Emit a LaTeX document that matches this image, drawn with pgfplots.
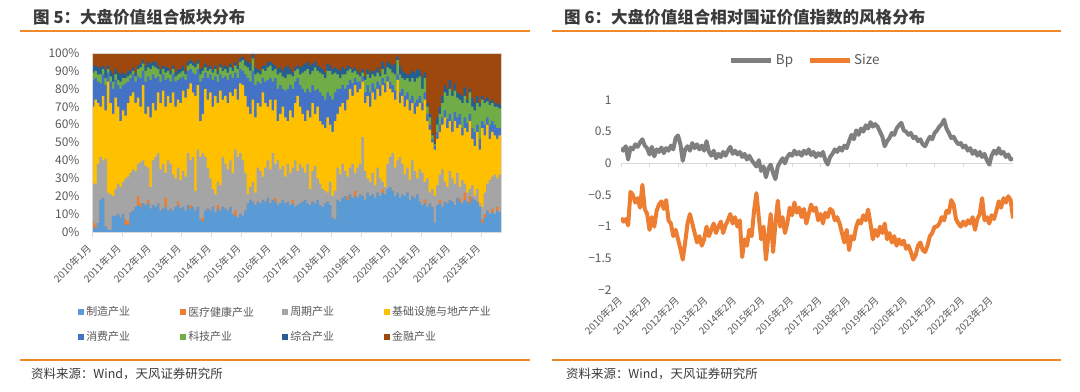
\documentclass[border=0pt]{standalone}
\usepackage{fontspec}
\setmainfont{Noto Sans CJK SC}
\usepackage{pgfplots}
\pgfplotsset{compat=1.18}
\usepackage{pgfplotstable}

\definecolor{cMfg}{HTML}{5B9BD5}
\definecolor{cMed}{HTML}{ED7D31}
\definecolor{cCyc}{HTML}{A5A5A5}
\definecolor{cInf}{HTML}{FFC000}
\definecolor{cCon}{HTML}{4472C4}
\definecolor{cTec}{HTML}{70AD47}
\definecolor{cMis}{HTML}{255E91}
\definecolor{cFin}{HTML}{9E480E}
\definecolor{cBp}{HTML}{7F7F7F}
\definecolor{cSize}{HTML}{ED7D31}
\definecolor{hdr}{HTML}{F0892A}
\definecolor{ttl}{HTML}{3A3A3A}
\definecolor{tickc}{HTML}{595959}
\definecolor{axc}{HTML}{D9D9D9}

% cumulative boundaries (%) of the stacked sectors, monthly from 2010-01
\pgfplotstableread{
i b1 b2 b3 b4 b5 b6 b7
0 3 6 27 70 85 89 93
1 2 4 27 74 86 90 93
2 5 5 38 72 84 88 92
3 18 18 42 70 83 88 92
4 19 19 40 76 88 91 93
5 3 3 41 68 82 86 91
6 1 1 22 84 89 91 93
7 1 1 21 72 84 87 90
8 9 9 20 66 80 84 88
9 9 9 24 75 85 88 91
10 10 10 27 70 82 85 89
11 8 8 25 62 80 84 88
12 10 10 28 68 82 86 89
13 4 7 30 65 83 86 88
14 4 6 31 72 84 87 90
15 11 11 33 76 86 88 90
16 12 12 35 78 88 90 92
17 14 14 34 72 84 87 89
18 15 20 38 75 87 91 93
19 14 16 39 70 86 92 94
20 16 16 40 82 90 94 96
21 15 15 37 66 84 90 93
22 16 18 36 70 87 92 95
23 13 13 25 64 85 91 94
24 15 15 40 72 88 93 95
25 14 14 42 68 86 92 95
26 16 16 44 78 87 91 93
27 12 12 35 72 84 88 91
28 13 13 38 79 88 91 93
29 14 19 33 70 85 89 92
30 12 12 40 76 86 90 92
31 13 13 38 72 84 88 90
32 12 12 32 78 88 91 93
33 14 14 30 70 84 87 89
34 15 17 36 74 85 88 91
35 13 13 29 72 86 89 91
36 14 14 34 79 87 90 93
37 12 12 31 75 85 88 90
38 15 15 44 80 90 93 95
39 13 15 40 83 91 94 96
40 14 14 42 78 89 93 95
41 12 12 23 76 88 92 94
42 14 14 46 82 91 94 96
43 7 7 42 62 84 88 91
44 6 8 44 66 86 90 92
45 12 12 42 80 89 92 94
46 13 13 36 74 86 90 92
47 12 12 30 78 88 91 93
48 14 14 24 70 85 89 91
49 11 11 21 76 87 91 93
50 13 15 28 72 84 88 90
51 12 12 26 79 88 92 94
52 14 14 42 74 86 90 92
53 13 13 38 76 87 91 93
54 12 12 35 72 85 89 92
55 14 14 40 78 88 92 94
56 10 10 33 76 86 90 92
57 9 12 46 80 89 93 95
58 8 8 42 74 86 91 93
59 10 10 44 83 91 95 97
60 9 9 40 82 90 96 98
61 12 12 33 76 88 93 96
62 16 16 21 70 86 92 95
63 18 18 25 66 84 90 94
64 17 17 28 74 90 97 100
65 15 15 22 64 82 88 92
66 17 17 36 72 84 89 91
67 16 16 34 70 83 88 90
68 18 18 31 78 86 91 93
69 17 17 36 72 84 90 93
70 19 19 40 70 85 92 95
71 16 16 35 74 86 93 95
72 18 18 44 68 84 90 94
73 17 19 38 74 86 91 93
74 15 15 40 62 80 88 91
75 16 16 35 66 82 89 92
76 18 18 37 70 80 87 90
77 16 16 31 64 79 86 92
78 17 17 38 62 80 88 93
79 15 15 33 68 82 88 91
80 16 18 36 64 80 87 89
81 14 14 40 72 84 90 92
82 15 15 34 76 86 91 93
83 16 16 38 70 82 88 92
84 17 17 36 66 80 89 93
85 18 18 33 62 78 90 94
86 16 16 38 68 80 91 95
87 15 15 24 64 78 88 93
88 17 17 34 72 82 90 94
89 16 16 37 66 79 92 95
90 18 18 30 70 80 90 93
91 15 15 27 62 78 89 92
92 14 14 24 60 76 88 91
93 16 16 23 58 74 86 89
94 17 17 22 64 78 90 94
95 15 15 28 60 76 90 93
96 8 8 20 56 74 88 91
97 7 7 23 62 78 89 92
98 18 18 36 66 80 88 91
99 17 17 32 70 80 86 90
100 19 19 38 72 82 88 92
101 20 20 34 68 80 88 91
102 18 20 31 74 82 90 93
103 21 21 36 80 85 91 92
104 19 19 38 76 83 89 91
105 20 23 33 82 86 90 92
106 19 19 36 78 84 88 90
107 21 21 38 80 84 87 89
108 20 20 53 84 87 89 91
109 18 18 34 72 78 85 87
110 22 22 30 76 82 88 91
111 20 20 28 70 78 86 89
112 21 21 33 78 83 88 90
113 19 19 26 74 80 87 90
114 22 22 36 80 84 89 92
115 20 20 30 76 82 87 89
116 22 24 28 82 86 91 95
117 21 21 25 78 83 88 92
118 24 24 38 84 87 92 95
119 25 25 42 80 84 91 94
120 23 23 44 78 82 89 93
121 20 20 36 74 79 88 94
122 22 22 40 85 88 96 98
123 19 19 42 72 78 88 93
124 21 21 38 76 80 86 90
125 20 20 32 70 76 85 89
126 22 22 36 74 78 86 88
127 18 18 29 68 74 84 88
128 20 20 40 72 76 86 90
129 19 19 34 66 72 84 89
130 21 21 30 70 74 86 91
131 17 17 35 72 76 87 90
132 15 15 33 68 72 80 87
133 16 18 28 74 78 86 89
134 14 14 30 62 66 70 72
135 16 16 22 57 60 64 66
136 14 14 24 50 52 54 55
137 5 5 20 46 48 49 50
138 15 15 26 52 56 60 64
139 16 18 32 56 60 66 70
140 14 14 35 60 64 72 76
141 17 17 28 64 68 78 82
142 16 16 25 58 63 76 80
143 18 18 34 62 66 80 85
144 17 17 30 56 62 76 79
145 15 15 27 62 67 79 83
146 19 19 33 58 64 75 78
147 17 19 25 60 66 74 77
148 16 16 29 54 58 72 76
149 18 22 27 58 64 76 81
150 17 17 22 56 61 72 74
151 16 20 24 62 66 78 80
152 19 19 26 52 58 70 75
153 18 18 20 48 56 68 72
154 17 17 24 56 60 72 76
155 14 14 16 46 52 70 72
156 5 7 14 58 62 74 76
157 8 10 22 54 60 72 74
158 12 12 27 60 64 73 75
159 10 10 29 52 60 71 73
160 11 13 31 56 62 72 74
161 10 10 32 54 60 70 72
162 12 14 30 52 58 70 72
163 11 11 32 54 58 69 71
164 13 13 31 55 59 68 70
}\leftdata

% monthly style exposures from 2010-02
\pgfplotstableread{
i bp size
0 0.24 -0.86
1 0.20 -0.92
2 0.27 -0.88
3 0.06 -0.98
4 0.25 -0.45
5 0.22 -0.50
6 0.30 -0.62
7 0.26 -0.55
8 0.33 -0.70
9 0.38 -0.34
10 0.28 -0.72
11 0.24 -0.80
12 0.14 -1.05
13 0.26 -0.85
14 0.11 -1.00
15 0.22 -0.75
16 0.18 -0.65
17 0.25 -0.60
18 0.16 -0.72
19 0.24 -0.58
20 0.20 -0.90
21 0.28 -0.95
22 0.22 -1.15
23 0.40 -1.05
24 0.44 -1.20
25 0.30 -1.35
26 0.04 -1.52
27 0.22 -1.25
28 0.27 -0.95
29 0.20 -0.80
30 0.32 -0.95
31 0.24 -1.10
32 0.30 -1.25
33 0.22 -1.15
34 0.28 -1.30
35 0.20 -1.20
36 0.35 -1.00
37 0.18 -1.15
38 0.12 -1.05
39 0.20 -0.95
40 0.08 -1.10
41 0.15 -1.00
42 0.10 -0.92
43 0.18 -1.10
44 0.12 -0.98
45 0.20 -0.90
46 0.26 -0.80
47 0.15 -0.95
48 0.20 -0.85
49 0.14 -1.00
50 0.18 -0.90
51 0.10 -1.48
52 0.15 -1.20
53 0.06 -1.30
54 0.12 -1.05
55 0.05 -1.15
56 0.00 -0.75
57 -0.05 -0.47
58 0.05 -0.85
59 -0.12 -1.20
60 -0.05 -1.00
61 -0.22 -1.52
62 -0.08 -1.15
63 -0.02 -0.80
64 -0.15 -1.40
65 -0.25 -0.95
66 -0.05 -0.59
67 0.02 -1.00
68 0.08 -0.85
69 0.00 -1.10
70 0.10 -0.95
71 0.15 -0.70
72 0.12 -0.82
73 0.20 -0.62
74 0.14 -0.78
75 0.18 -0.70
76 0.12 -0.85
77 0.20 -0.72
78 0.15 -0.95
79 0.22 -0.80
80 0.13 -0.65
81 0.18 -0.75
82 0.10 -0.70
83 0.16 -0.90
84 0.12 -0.80
85 0.18 -0.95
86 0.05 -0.78
87 -0.02 -0.85
88 0.10 -0.72
89 0.15 -0.75
90 0.22 -0.90
91 0.18 -0.85
92 0.25 -0.95
93 0.20 -1.10
94 0.28 -1.25
95 0.24 -1.05
96 0.35 -1.37
97 0.45 -1.15
98 0.38 -1.20
99 0.52 -1.00
100 0.45 -0.90
101 0.55 -0.95
102 0.50 -0.82
103 0.60 -0.90
104 0.55 -0.73
105 0.65 -0.95
106 0.58 -1.20
107 0.62 -1.05
108 0.58 -1.15
109 0.50 -1.00
110 0.42 -1.10
111 0.27 -0.95
112 0.35 -1.20
113 0.40 -1.10
114 0.48 -1.25
115 0.45 -1.15
116 0.55 -1.30
117 0.60 -1.20
118 0.64 -1.28
119 0.52 -1.22
120 0.50 -1.35
121 0.45 -1.30
122 0.48 -1.40
123 0.40 -1.52
124 0.42 -1.45
125 0.35 -1.30
126 0.38 -1.25
127 0.30 -1.37
128 0.27 -1.40
129 0.35 -1.30
130 0.42 -1.15
131 0.38 -1.10
132 0.48 -1.00
133 0.52 -1.00
134 0.58 -0.95
135 0.62 -0.85
136 0.69 -0.90
137 0.55 -0.75
138 0.48 -0.78
139 0.40 -0.58
140 0.42 -0.65
141 0.35 -0.88
142 0.30 -0.95
143 0.32 -1.00
144 0.25 -0.92
145 0.28 -0.98
146 0.20 -0.90
147 0.24 -0.95
148 0.15 -0.85
149 0.20 -1.05
150 0.12 -0.88
151 0.18 -0.80
152 0.10 -0.55
153 0.15 -0.90
154 0.05 -0.85
155 -0.02 -0.95
156 0.12 -0.82
157 0.20 -0.88
158 0.15 -0.75
159 0.24 -0.60
160 0.15 -0.70
161 0.18 -0.55
162 0.10 -0.62
163 0.14 -0.52
164 0.06 -0.58
165 0.08 -0.87
}\rightdata

\begin{document}
\begin{tikzpicture}
\useasboundingbox (0,0) rectangle (1080bp,392bp);
\fill[white] (0,0) rectangle (1080bp,392bp);

% headers
\node[anchor=west, inner sep=0pt, text=ttl, font=\fontsize{16.6}{18}\selectfont\bfseries] at (33bp,375bp) {图 5：大盘价值组合板块分布};
\node[anchor=west, inner sep=0pt, text=ttl, font=\fontsize{16.6}{18}\selectfont\bfseries] at (564bp,375bp) {图 6：大盘价值组合相对国证价值指数的风格分布};
\draw[hdr, line width=1.2bp] (20bp,361bp) -- (530bp,361bp);
\draw[hdr, line width=1.2bp] (552bp,361bp) -- (1061bp,361bp);
% footers
\draw[hdr, line width=1.2bp] (20bp,32bp) -- (530bp,32bp);
\draw[hdr, line width=1.2bp] (552bp,32bp) -- (1061bp,32bp);
\node[anchor=west, inner sep=0pt, text=ttl, font=\fontsize{12.5}{14}\selectfont] at (31bp,18bp) {资料来源：Wind，天风证券研究所};
\node[anchor=west, inner sep=0pt, text=ttl, font=\fontsize{12.5}{14}\selectfont] at (566bp,18bp) {资料来源：Wind，天风证券研究所};

% ---------- left: stacked sector shares ----------
\begin{axis}[
  at={(92bp,160bp)}, anchor=south west, scale only axis,
  width=409bp, height=179bp,
  xmin=2010, xmax=2023.6667, ymin=0, ymax=100,
  axis line style={draw=axc, line width=0.8bp},
  xtick={2010,2011,2012,2013,2014,2015,2016,2017,2018,2019,2020,2021,2022,2023},
  xticklabels={2010年1月,2011年1月,2012年1月,2013年1月,2014年1月,2015年1月,2016年1月,2017年1月,2018年1月,2019年1月,2020年1月,2021年1月,2022年1月,2023年1月},
  xtick pos=bottom, tick align=outside, major tick length=5bp,
  xtick style={draw=axc, line width=0.8bp},
  x tick label style={yshift=-9bp, xshift=-2bp, rotate=45, anchor=east, font=\fontsize{10}{11}\selectfont, text=tickc, inner sep=1bp},
  ytick={0,10,20,30,40,50,60,70,80,90,100},
  yticklabels={0\%,10\%,20\%,30\%,40\%,50\%,60\%,70\%,80\%,90\%,100\%},
  ytick style={draw=none},
  y tick label style={font=\fontsize{12}{13}\selectfont, text=tickc, xshift=-4bp},
  legend columns=4,
  legend cell align=left,
  legend style={at={(-0.034,-0.405)}, anchor=north west, draw=none, fill=none, inner sep=0pt,
    font=\fontsize{11}{12}\selectfont, text=tickc, row sep=10bp},
  legend image code/.code={\fill[#1] (0bp,-3bp) rectangle (6bp,3bp);},
]
\addlegendimage{fill=cMfg,draw=none}\addlegendentry{\makebox[92bp][l]{制造产业}}
\addlegendimage{fill=cMed,draw=none}\addlegendentry{\makebox[92bp][l]{医疗健康产业}}
\addlegendimage{fill=cCyc,draw=none}\addlegendentry{\makebox[92bp][l]{周期产业}}
\addlegendimage{fill=cInf,draw=none}\addlegendentry{\makebox[92bp][l]{基础设施与地产产业}}
\addlegendimage{fill=cCon,draw=none}\addlegendentry{\makebox[92bp][l]{消费产业}}
\addlegendimage{fill=cTec,draw=none}\addlegendentry{\makebox[92bp][l]{科技产业}}
\addlegendimage{fill=cMis,draw=none}\addlegendentry{\makebox[92bp][l]{综合产业}}
\addlegendimage{fill=cFin,draw=none}\addlegendentry{\makebox[92bp][l]{金融产业}}

\addplot[fill=cFin, draw=none, forget plot] coordinates {(2010,100) (2023.6667,100)} \closedcycle;
\addplot[fill=cMis, draw=none, const plot, forget plot] table[x expr=2010+\thisrow{i}/12, y=b7] {\leftdata} \closedcycle;
\addplot[fill=cTec, draw=none, const plot, forget plot] table[x expr=2010+\thisrow{i}/12, y=b6] {\leftdata} \closedcycle;
\addplot[fill=cCon, draw=none, const plot, forget plot] table[x expr=2010+\thisrow{i}/12, y=b5] {\leftdata} \closedcycle;
\addplot[fill=cInf, draw=none, const plot, forget plot] table[x expr=2010+\thisrow{i}/12, y=b4] {\leftdata} \closedcycle;
\addplot[fill=cCyc, draw=none, const plot, forget plot] table[x expr=2010+\thisrow{i}/12, y=b3] {\leftdata} \closedcycle;
\addplot[fill=cMed, draw=none, const plot, forget plot] table[x expr=2010+\thisrow{i}/12, y=b2] {\leftdata} \closedcycle;
\addplot[fill=cMfg, draw=none, const plot, forget plot] table[x expr=2010+\thisrow{i}/12, y=b1] {\leftdata} \closedcycle;
\draw[axc, line width=0.8bp] (rel axis cs:0,0) rectangle (rel axis cs:1,1);
\end{axis}

% ---------- right: style exposures ----------
\begin{axis}[
  at={(621bp,102bp)}, anchor=south west, scale only axis,
  width=392bp, height=190bp,
  xmin=2010.0833, xmax=2023.8333, ymin=-2, ymax=1,
  axis x line*=bottom, axis y line*=left,
  axis line style={draw=none},
  xtick={2010.0833,2011.0833,2012.0833,2013.0833,2014.0833,2015.0833,2016.0833,2017.0833,2018.0833,2019.0833,2020.0833,2021.0833,2022.0833,2023.0833},
  xticklabels={2010年2月,2011年2月,2012年2月,2013年2月,2014年2月,2015年2月,2016年2月,2017年2月,2018年2月,2019年2月,2020年2月,2021年2月,2022年2月,2023年2月},
  xtick style={draw=none}, ytick style={draw=none},
  x tick label style={yshift=-8bp, rotate=45, anchor=east, font=\fontsize{10}{11}\selectfont, text=tickc, inner sep=1bp},
  ytick={-2,-1.5,-1,-0.5,0,0.5,1},
  yticklabels={−2,−1.5,−1,−0.5,0,0.5,1},
  y tick label style={font=\fontsize{12}{13}\selectfont, text=tickc, xshift=-6bp},
  legend columns=2,
  legend style={at={(0.47,1.21)}, anchor=center, draw=none, fill=none, inner sep=0pt,
    font=\fontsize{13.5}{15}\selectfont, text=tickc,
    /tikz/every even column/.append style={column sep=12bp}},
  legend image code/.code={\draw[#1, line width=5bp] (0bp,0bp) -- (40bp,0bp);},
]
\draw[axc, line width=1bp] (rel axis cs:0,0.66667) -- (rel axis cs:1,0.66667);
\pgfplotsinvokeforeach{0,0.072727,0.145455,0.218182,0.290909,0.363636,0.436364,0.509091,0.581818,0.654545,0.727273,0.8,0.872727,0.945455}{
  \draw[axc, line width=1bp] (rel axis cs:#1,0.66667) -- (rel axis cs:#1,0.64561);
}
\addplot[cBp, line width=4bp, line join=round] table[x expr=2010.0833+\thisrow{i}/12, y=bp] {\rightdata};
\addlegendentry{Bp}
\addplot[cSize, line width=4bp, line join=round] table[x expr=2010.0833+\thisrow{i}/12, y=size] {\rightdata};
\addlegendentry{Size}
\end{axis}
\end{tikzpicture}
\end{document}
